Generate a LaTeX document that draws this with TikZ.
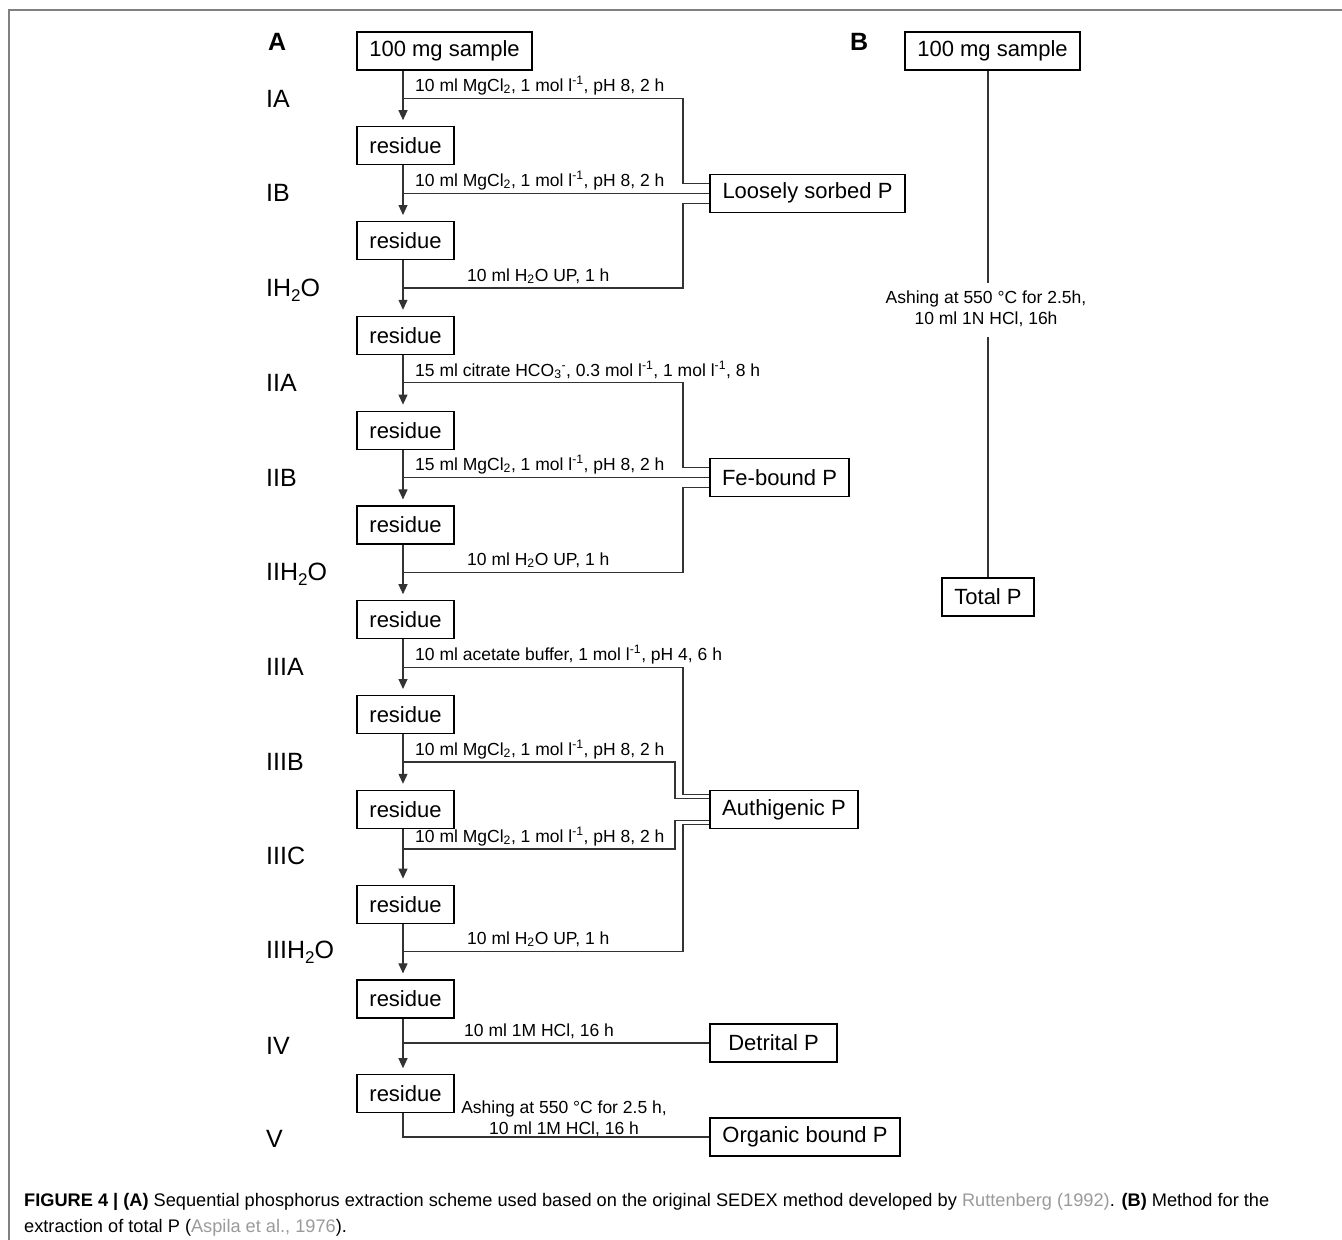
\documentclass[tikz,border=0pt]{standalone}
\usepackage{fontspec}
\setmainfont{Liberation Sans}
\usetikzlibrary{arrows.meta,calc}
\definecolor{ln}{HTML}{333333}
\definecolor{citec}{HTML}{9A9A9A}
\definecolor{framec}{HTML}{808080}
\tikzset{
  box/.style={draw=black, line width=1.2pt, minimum height=38pt, inner sep=0pt, font=\fontsize{22}{26}\selectfont},
  cond/.style={font=\fontsize{17.5}{21}\selectfont, inner sep=0pt},
  stage/.style={font=\fontsize{25}{29}\selectfont, anchor=base west, inner sep=0pt},
  flow/.style={draw=ln, line width=1.1pt},
  arr/.style={flow, -{Triangle[width=9pt,length=10pt]}, shorten >=6pt},
  capt/.style={font=\fontsize{18.2}{22}\selectfont, anchor=base west, inner sep=0pt}
}
\newcommand{\mgcl}{MgCl\textsubscript{2}}
\newcommand{\moll}{mol l\textsuperscript{-1}}
\newcommand{\stsub}[1]{\raisebox{-0.22em}{\fontsize{17}{17}\selectfont #1}}
\begin{document}
\begin{tikzpicture}[x=1pt,y=-1pt]
\useasboundingbox (0,0) rectangle (1342,1240);
% frame
\draw[framec, line width=1.5pt] (9,1240) -- (9,10) -- (1342,10);

% panel labels
\node[stage, font=\fontsize{25}{29}\selectfont\bfseries] (pA) at (268,50) {A};
\node[stage, font=\fontsize{25}{29}\selectfont\bfseries] (pB) at (850,50) {B};

% stage labels
\node[stage] (sIA) at (266,107) {IA};
\node[stage] (sIB) at (266,201) {IB};
\node[stage] (sIW) at (266,296) {IH\stsub{2}O};
\node[stage] (sIIA) at (266,391) {IIA};
\node[stage] (sIIB) at (266,486) {IIB};
\node[stage] (sIIW) at (266,580) {IIH\stsub{2}O};
\node[stage] (sIIIA) at (266,675) {IIIA};
\node[stage] (sIIIB) at (266,770) {IIIB};
\node[stage] (sIIIC) at (266,864) {IIIC};
\node[stage] (sIIIW) at (266,958) {IIIH\stsub{2}O};
\node[stage] (sIV) at (266,1054) {IV};
\node[stage] (sV) at (266,1147) {V};

% main column
\coordinate (colA) at (403,0);
\coordinate (jA) at (683,0);
\coordinate (jB) at (675,0);
\node[box, minimum width=175pt] (r0) at (444.5,51) {100 mg sample};
\foreach \i in {1,...,11}{
  \node[box, minimum width=97pt] (r\i) at (405.5,{51+94.8*\i}) {residue};
}
\foreach \i [evaluate=\i as \j using int(\i-1)] in {1,...,11}{
  \draw[arr] (r\j.south -| colA) -- (r\i.north -| colA);
}

% result boxes
\node[box, minimum width=195pt] (lsp) at (807.5,193.2) {Loosely sorbed P};
\node[box, minimum width=139pt] (fep) at (779.5,477.6) {Fe-bound P};
\node[box, minimum width=148pt] (aup) at (784,809.4) {Authigenic P};
\node[box, minimum width=127pt] (dep) at (773.5,1043) {Detrital P};
\node[box, minimum width=190pt] (orp) at (805,1137) {Organic bound P};

% branch points
\coordinate (b1) at (403,98.4);
\coordinate (b2) at (403,193.2);
\coordinate (b3) at (403,288);
\coordinate (b4) at (403,382.8);
\coordinate (b5) at (403,477.6);
\coordinate (b6) at (403,572.4);
\coordinate (b7) at (403,667.2);
\coordinate (b8) at (403,762);
\coordinate (b9) at (403,849);
\coordinate (b10) at (403,951.6);
\coordinate (b11) at (403,1043);
\coordinate (b12) at (403,1137);

% Loosely sorbed P
\draw[flow] (b1) -- (b1 -| jA) |- ([yshift=10pt]lsp.west);
\draw[flow] (b2) -- (lsp.west);
\draw[flow] (b3) -- (b3 -| jA) |- ([yshift=-10pt]lsp.west);
% Fe-bound P
\draw[flow] (b4) -- (b4 -| jA) |- ([yshift=10pt]fep.west);
\draw[flow] (b5) -- (fep.west);
\draw[flow] (b6) -- (b6 -| jA) |- ([yshift=-10pt]fep.west);
% Authigenic P
\draw[flow] (b7) -- (b7 -| jA) |- ([yshift=15pt]aup.west);
\draw[flow] (b8) -- (b8 -| jB) |- ([yshift=11pt]aup.west);
\draw[flow] (b9) -- (b9 -| jB) |- ([yshift=-11pt]aup.west);
\draw[flow] (b10) -- (b10 -| jA) |- ([yshift=-15pt]aup.west);
% Detrital
\draw[flow] (b11) -- (dep.west);
% Organic
\draw[flow] (r11.south -| colA) -- (b12) -- (orp.west);

% condition labels
\node[cond, anchor=base west] (c1) at (415,91) {10 ml \mgcl, 1 \moll, pH 8, 2 h};
\node[cond, anchor=base west] (c2) at (415,186) {10 ml \mgcl, 1 \moll, pH 8, 2 h};
\node[cond, anchor=base west] (c3) at (467,281) {10 ml H\textsubscript{2}O UP, 1 h};
\node[cond, anchor=base west] (c4) at (415,376) {15 ml citrate HCO\textsubscript{3}\textsuperscript{-}, 0.3 \moll, 1 \moll, 8 h};
\node[cond, anchor=base west] (c5) at (415,470) {15 ml \mgcl, 1 \moll, pH 8, 2 h};
\node[cond, anchor=base west] (c6) at (467,565) {10 ml H\textsubscript{2}O UP, 1 h};
\node[cond, anchor=base west] (c7) at (415,660) {10 ml acetate buffer, 1 \moll, pH 4, 6 h};
\node[cond, anchor=base west] (c8) at (415,755) {10 ml \mgcl, 1 \moll, pH 8, 2 h};
\node[cond, anchor=base west] (c9) at (415,842) {10 ml \mgcl, 1 \moll, pH 8, 2 h};
\node[cond, anchor=base west] (c10) at (467,944) {10 ml H\textsubscript{2}O UP, 1 h};
\node[cond, anchor=base west] (c11) at (464,1036) {10 ml 1M HCl, 16 h};
\node[cond, align=center] (c12) at (564,1119) {Ashing at 550 °C for 2.5 h,\\10 ml 1M HCl, 16 h};

% panel B
\coordinate (colB) at (988,0);
\node[box, minimum width=175pt] (sB) at (992.5,51) {100 mg sample};
\node[box, minimum width=92pt] (tp) at (988,597) {Total P};
\node[cond, align=center] (bl) at (986,308.5) {Ashing at 550 °C for 2.5h,\\10 ml 1N HCl, 16h};
\coordinate (bt) at (988,283);
\coordinate (bb) at (988,337);
\draw[flow] (sB.south -| colB) -- (bt);
\draw[flow] (bb) -- (tp.north);

% caption
\node[capt] (cap1) at (24,1206) {\textbf{FIGURE 4 | (A)} Sequential phosphorus extraction scheme used based on the original SEDEX method developed by \textcolor{citec}{Ruttenberg (1992)}. \textbf{(B)} Method for the};
\node[capt] (cap2) at (24,1232) {extraction of total P (\textcolor{citec}{Aspila et al., 1976}).};
\end{tikzpicture}
\end{document}
